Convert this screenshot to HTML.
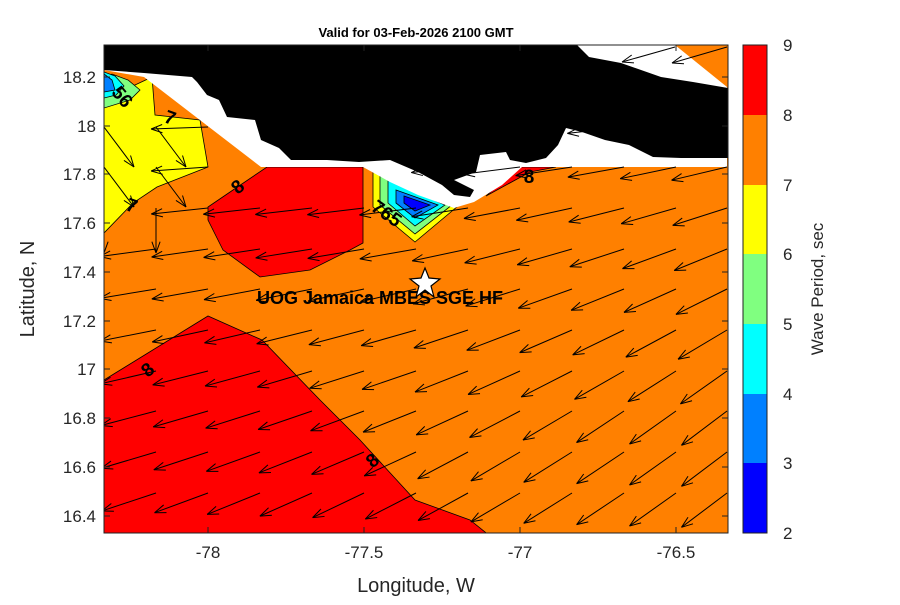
<!DOCTYPE html>
<html><head><meta charset="utf-8"><style>
body{margin:0;background:#fff;}
svg text{font-family:"Liberation Sans","DejaVu Sans",sans-serif;}
</style></head><body>
<svg id="s" width="900" height="600" xmlns="http://www.w3.org/2000/svg">
<rect width="900" height="600" fill="#fff"/>
<defs><clipPath id="c"><rect x="104" y="45" width="624" height="488"/></clipPath></defs>
<g clip-path="url(#c)" stroke="#000" stroke-width="0.8">
<rect x="104" y="45" width="624" height="488" fill="#FF8000" stroke="none"/>
<polygon fill="#FF0000" points="104,380 208,316 262,340 320,400 360,440 415,500 470,520 495,540 104,540"/>
<polygon fill="#FF0000" points="233,190 267,167 363,167 363,243 350,250 310,270 260,277 223,250 208,220 208,207"/>
<polygon fill="#FFFF00" points="104,95 135,85 152,77 155,115 200,120 208,167 157,187 133,203 104,233"/>
<polygon fill="#80FF80" points="104,78 112,74 128,80 140,90 130,100 104,108"/>
<polygon fill="#00FFFF" points="104,72 115,76 124,86 116,95 104,98"/>
<polygon fill="#0080FF" points="104,74 112,80 115,90 104,92"/>
<polygon fill="#FFFF00" points="373,170 458,206 415,242 373,207"/>
<polygon fill="#80FF80" points="380,172 452,205 415,234 380,205"/>
<polygon fill="#00FFFF" points="388,180 445,205 415,226 388,203"/>
<polygon fill="#0080FF" points="396,190 438,205 415,218 396,203"/>
<polygon fill="#0000FF" points="404,196 430,205 415,211 404,203"/>
<polygon fill="#FF0000" points="486,196 518,167 556,167 530,172"/>
<polygon fill="#fff" stroke="none" points="104,45 675,45 727,87 727,167 522,167 502,185 474,202 454,208 418,195 390,182 363,167 261,167 144,77 104,70"/>
<polygon fill="#000" stroke="none" points="104,45 577,45 589,57 621,63 661,77 693,82 728,88 728,158 681,158 653,157 629,145 605,140 582,132 566,128 558,145 546,158 526,163 510,160 506,152 480,155 476,172 454,180 474,190 470,197 454,195 442,185 418,172 390,160 359,162 327,160 291,160 279,148 261,140 255,120 227,117 219,100 207,95 197,82 192,77 144,73 104,70"/>
<g id="arr" fill="none" stroke="#000" stroke-width="1"></g>
</g>
<rect x="104" y="45" width="624" height="488" fill="none" stroke="#222" stroke-width="1"/>
<g id="ticks" stroke="#222" stroke-width="1"></g>
<g font-size="17" fill="#262626" text-anchor="middle">
<text x="208" y="558">-78</text><text x="364" y="558">-77.5</text><text x="520" y="558">-77</text><text x="676" y="558">-76.5</text>
</g>
<g font-size="17" fill="#262626" text-anchor="end">
<text x="96" y="83">18.2</text><text x="96" y="132">18</text><text x="96" y="180">17.8</text><text x="96" y="229">17.6</text><text x="96" y="278">17.4</text><text x="96" y="327">17.2</text><text x="96" y="375">17</text><text x="96" y="424">16.8</text><text x="96" y="473">16.6</text><text x="96" y="522">16.4</text>
</g>
<text x="416" y="592" font-size="20" fill="#262626" text-anchor="middle">Longitude, W</text>
<text transform="translate(34,289) rotate(-90)" font-size="20" fill="#262626" text-anchor="middle">Latitude, N</text>
<text x="416" y="37" font-size="13" font-weight="bold" text-anchor="middle">Valid for 03-Feb-2026 2100 GMT</text>
<text x="380" y="304" font-size="18" font-weight="bold" text-anchor="middle">UOG Jamaica MBES SGE HF</text>
<polygon points="425,268 429,278 440,279 431,286 434,297 425,290 416,297 419,286 410,279 421,278" fill="#fff" stroke="#000" stroke-width="1.2"/>
<g font-size="19" font-weight="bold" text-anchor="middle">
<text x="170" y="124" transform="rotate(20,170,118)">7</text>
<text x="132" y="212" transform="rotate(20,132,205)">7</text>
<text x="238" y="193" transform="rotate(-40,238,187)">8</text>
<text x="148" y="376" transform="rotate(-40,148,370)">8</text>
<text x="372" y="467" transform="rotate(-40,372,460)">8</text>
<text x="529" y="183">8</text>
<text x="122" y="103" transform="rotate(50,122,97)">56</text>
<text x="387" y="220" transform="rotate(35,387,213)">765</text>
</g>
<rect x="743" y="45" width="24" height="70" fill="#FF0000"/>
<rect x="743" y="115" width="24" height="70" fill="#FF8000"/>
<rect x="743" y="185" width="24" height="70" fill="#FFFF00"/>
<rect x="743" y="254" width="24" height="70" fill="#80FF80"/>
<rect x="743" y="324" width="24" height="70" fill="#00FFFF"/>
<rect x="743" y="394" width="24" height="70" fill="#0080FF"/>
<rect x="743" y="463" width="24" height="70" fill="#0000FF"/>
<rect x="743" y="45" width="24" height="488" fill="none" stroke="#222"/>
<g font-size="17" fill="#262626">
<text x="783" y="51">9</text><text x="783" y="121">8</text><text x="783" y="191">7</text><text x="783" y="260">6</text><text x="783" y="330">5</text><text x="783" y="400">4</text><text x="783" y="469">3</text><text x="783" y="539">2</text>
</g>
<text transform="translate(823,289) rotate(-90)" font-size="17" fill="#262626" text-anchor="middle">Wave Period, sec</text>
</svg>
<script>
(function(){
var NS="http://www.w3.org/2000/svg",g=document.getElementById("arr"),t=document.getElementById("ticks");
function line(p,x1,y1,x2,y2){var l=document.createElementNS(NS,"line");l.setAttribute("x1",x1);l.setAttribute("y1",y1);l.setAttribute("x2",x2);l.setAttribute("y2",y2);p.appendChild(l);}
function arrow(x,y,dx,dy){var X=x+dx,Y=y+dy;line(g,x,y,X,Y);var a=Math.atan2(dy,dx),h=12;
line(g,X,Y,X-h*Math.cos(a-0.35),Y-h*Math.sin(a-0.35));line(g,X,Y,X-h*Math.cos(a+0.35),Y-h*Math.sin(a+0.35));}
var coast={104:72,156:78,208:112,260:168,312:168,364:168,416:192,467:208,519:168,571:168,623:168,675:168,727:168};
var rows=[127,167,208,249,289,330,371,411,452,493,533];
for(var i=0;i<=12;i++){var x=104+52*i;var xx=x;if(i==12)xx=727;
 for(var j=0;j<rows.length;j++){var y=rows[j];if(y<coast[x]+2)continue;
  if(x<=160&&y<=170){arrow(xx,y,30,40);continue;}
  if(x<=160&&y==208){arrow(xx,y,0,45);continue;}
  var s=0.044+Math.max(0,x-156)/571*0.063;
  var th=4+Math.max(0,x-415)*0.03+s*(y-167);
  var cap=19+Math.max(0,x-156)/571*18; if(th>cap)th=cap;
  var L=57,r=th*Math.PI/180;arrow(xx,y,-L*Math.cos(r),L*Math.sin(r));}}
arrow(727,47,-55,16);arrow(675,47,-53,15);
[208,364,520,676].forEach(function(x){line(t,x,533,x,527);line(t,x,45,x,51);});
[77,126,174,223,272,321,369,418,467,516].forEach(function(y){line(t,104,y,110,y);line(t,728,y,722,y);});
for(var k=0;k<8;k++){var y=45+k*69.7;line(t,743,y,747,y);line(t,767,y,763,y);}
})();
</script>
</body></html>
